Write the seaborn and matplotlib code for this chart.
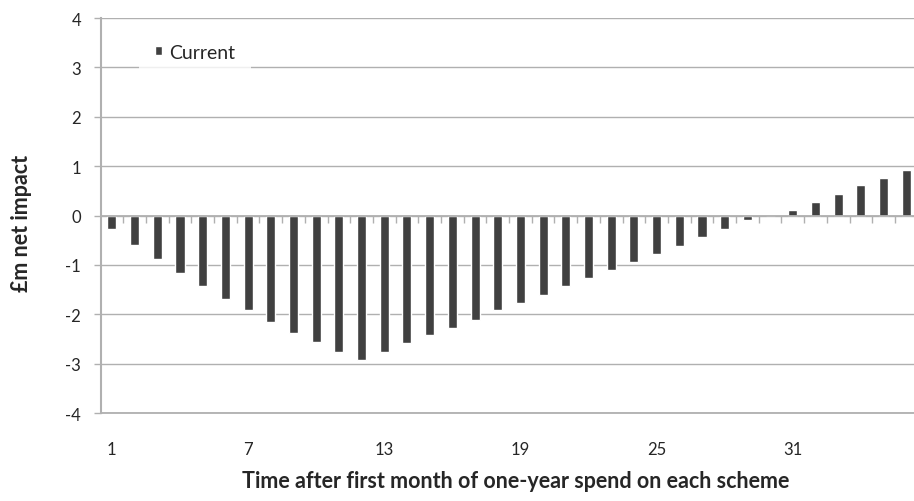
import matplotlib
matplotlib.use("Agg")
import matplotlib.pyplot as plt
import seaborn as sns
import pandas as pd
from matplotlib.patches import Patch

# Months since first month of spend, and net impact (£m)
months = list(range(1, 37))
current = [-0.27, -0.59, -0.88, -1.16, -1.42, -1.69, -1.92, -2.16, -2.37, -2.56, -2.76, -2.92,
           -2.76, -2.58, -2.42, -2.27, -2.11, -1.92, -1.77, -1.61, -1.42, -1.27, -1.11, -0.93,
           -0.78, -0.61, -0.43, -0.28, -0.08, 0.0, 0.12, 0.28, 0.43, 0.62, 0.77, 0.93]
x_tick_labels = ["1", "7", "13", "19", "25", "31"]
y_ticks = [-4, -3, -2, -1, 0, 1, 2, 3, 4]

BAR = "#404040"
GREY = "#b0b0b0"

sns.set_theme(style="white")
plt.rcParams["font.family"] = ["Lato", "DejaVu Sans"]
plt.rcParams["axes.unicode_minus"] = False

fig = plt.figure(figsize=(9.14, 5.02), dpi=100)
ax = fig.add_axes([0.110, 0.175, 0.894, 0.787])

df = pd.DataFrame({"month": [str(m) for m in months], "impact": current})
sns.barplot(data=df, x="month", y="impact", color=BAR, width=0.4,
            saturation=1, ax=ax, errorbar=None)

ax.set_xlim(-0.5, len(months) - 0.5)
ax.set_ylim(y_ticks[0], y_ticks[-1])
ax.set_yticks(y_ticks, [str(t) for t in y_ticks])
ax.yaxis.grid(True, color=GREY, linewidth=1)
ax.set_axisbelow(True)

ax.spines["top"].set_visible(False)
ax.spines["right"].set_visible(False)
ax.spines["left"].set_color(GREY)
ax.spines["left"].set_linewidth(1.5)
# category axis crosses at zero, ticks between the bars
ax.spines["bottom"].set_position(("data", 0))
ax.spines["bottom"].set_color(GREY)
ax.spines["bottom"].set_linewidth(1.3)
ax.set_xticks([i + 0.5 for i in range(len(months))])
ax.tick_params(axis="x", direction="out", length=5, width=1, color=GREY,
               bottom=True, labelbottom=False)
ax.tick_params(axis="y", direction="out", length=5, width=1, color=GREY,
               labelsize=12, pad=9, left=True)
ax.set_xlabel("")
ax.set_ylabel("")

# labels along the bottom of the plot
sec = ax.secondary_xaxis("bottom")
label_pos = [months.index(int(t)) for t in x_tick_labels]
sec.set_xticks(label_pos, x_tick_labels)
sec.tick_params(length=0, pad=20, labelsize=12)
sec.spines["bottom"].set_color(GREY)
sec.spines["bottom"].set_linewidth(1.3)

fig.text(516 / 914, (502 - 488) / 502,
         "Time after first month of one-year spend on each scheme",
         ha="center", va="baseline", fontsize=15.5, fontweight="bold")
fig.text(22 / 914, 1 - 223 / 502, "£m net impact", rotation=90,
         ha="center", va="center", fontsize=15.5, fontweight="bold")

leg = ax.legend(handles=[Patch(facecolor=BAR)], labels=["Current"],
                loc="upper left", bbox_to_anchor=(0.047, 0.975), borderaxespad=0,
                fontsize=14, handlelength=0.4, handleheight=0.4, handletextpad=0.35,
                borderpad=0.8, frameon=True, fancybox=False)
leg.get_frame().set_facecolor("white")
leg.get_frame().set_edgecolor("none")

fig.savefig("out.png", dpi=100)
